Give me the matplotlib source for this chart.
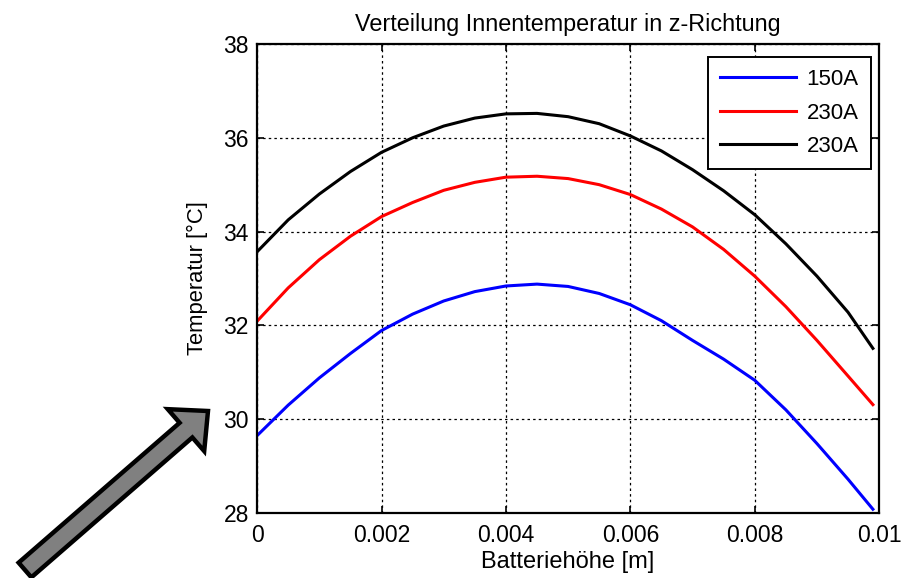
import matplotlib
matplotlib.use("Agg")
import matplotlib.pyplot as plt
from matplotlib.patches import FancyArrowPatch, ArrowStyle

plt.rcParams['font.family'] = ['Liberation Sans', 'DejaVu Sans']

x = [0, 0.0005, 0.001, 0.0015, 0.002, 0.0025, 0.003, 0.0035, 0.004, 0.0045,
     0.005, 0.0055, 0.006, 0.0065, 0.007, 0.0075, 0.008, 0.0085, 0.009, 0.0095, 0.0099]
t_150 = [29.65, 30.30, 30.88, 31.40, 31.89, 32.24, 32.52, 32.72, 32.84, 32.88,
         32.83, 32.68, 32.44, 32.10, 31.68, 31.28, 30.83, 30.20, 29.48, 28.72, 28.08]
t_230a = [32.09, 32.80, 33.40, 33.90, 34.32, 34.62, 34.88, 35.05, 35.16, 35.18,
          35.13, 35.00, 34.79, 34.48, 34.10, 33.62, 33.05, 32.40, 31.68, 30.92, 30.31]
t_230b = [33.57, 34.25, 34.80, 35.28, 35.69, 36.00, 36.25, 36.42, 36.51, 36.52,
          36.45, 36.30, 36.04, 35.72, 35.32, 34.87, 34.36, 33.74, 33.05, 32.28, 31.51]
labels = ["150A", "230A", "230A"]
colors = ["#0000ff", "#ff0000", "#000000"]
xticks = [0, 0.002, 0.004, 0.006, 0.008, 0.01]
xticklabels = ["0", "0.002", "0.004", "0.006", "0.008", "0.01"]
yticks = [28, 30, 32, 34, 36, 38]

fig = plt.figure(figsize=(9.15, 5.78), dpi=100)
ax = fig.add_axes([0.281, 0.1125, 0.6798, 0.8114])

for ys, lab, c in zip([t_150, t_230a, t_230b], labels, colors):
    ax.plot(x, ys, color=c, lw=2.2, label=lab)

ax.set_xlim(0, 0.01)
ax.set_ylim(28, 38)
ax.set_xticks(xticks)
ax.set_xticklabels(xticklabels)
ax.set_yticks(yticks)
ax.tick_params(direction='in', top=True, right=True, length=5, width=1.2,
               labelsize=16.5)
ax.tick_params(axis='x', pad=8)
ax.tick_params(axis='y', pad=6)
ax.grid(True, color='black', linestyle=(0, (2, 2.5)), linewidth=0.9)
for s in ax.spines.values():
    s.set_linewidth(1.6)

ax.set_title("Verteilung Innentemperatur in z-Richtung", fontsize=16.8, pad=9)
ax.set_xlabel("Batteriehöhe [m]", fontsize=17, labelpad=3)
ax.set_ylabel("Temperatur [°C]", fontsize=15.8, labelpad=11)

leg = ax.legend(loc='upper right', bbox_to_anchor=(871/915, 1 - 57/578),
                bbox_transform=fig.transFigure, fontsize=16, frameon=True,
                fancybox=False, handlelength=3.4, handletextpad=0.5,
                labelspacing=0.56, borderpad=0.55, borderaxespad=0)
leg.get_frame().set_edgecolor('black')
leg.get_frame().set_linewidth(1.4)
leg.get_frame().set_alpha(1)

style = ArrowStyle("Simple", head_length=2.1, head_width=4.0, tail_width=1.4)
arrow = FancyArrowPatch((25/915, 1 - 570/578), (208/915, 1 - 411/578),
                        transform=fig.transFigure, arrowstyle=style,
                        mutation_scale=10, shrinkA=0, shrinkB=0,
                        facecolor='#808080', edgecolor='black', linewidth=3.2,
                        joinstyle='miter')
fig.add_artist(arrow)

fig.savefig("out.png", dpi=100)
